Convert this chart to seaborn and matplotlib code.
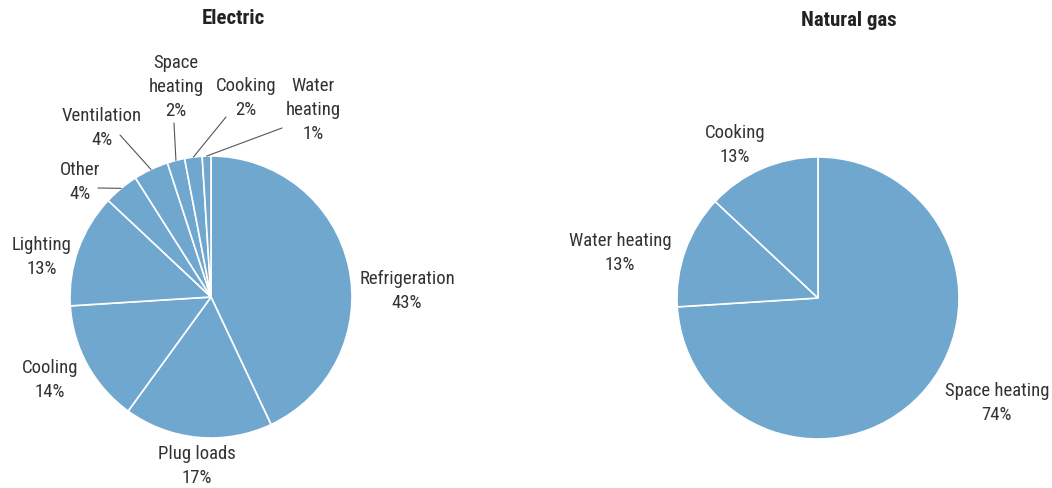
import numpy as np
import seaborn as sns
import matplotlib.pyplot as plt

# data
elec_labels = ["Refrigeration", "Plug loads", "Cooling", "Lighting", "Other",
               "Ventilation", "Space\nheating", "Cooking", "Water\nheating"]
elec_values = [43, 17, 14, 13, 4, 4, 2, 2, 1]

gas_labels = ["Space heating", "Water heating", "Cooking"]
gas_values = [74, 13, 13]

sns.set_theme(style="white")
plt.rcParams["font.family"] = ["Roboto Condensed", "Roboto", "DejaVu Sans"]

blue = sns.color_palette(["#6fa7cf"])[0]
txt = "#333333"
H = 488

fig = plt.figure(figsize=(10.52, 4.88), dpi=100)
ax = fig.add_axes([0, 0, 1, 1])

R = 141


def draw_pie(values, labels, cx, cy, label_pos, leaders):
    wedges, _ = ax.pie(values, center=(cx, H - cy), radius=R, startangle=90,
                       counterclock=False, colors=[blue] * len(values),
                       wedgeprops=dict(edgecolor="white", linewidth=1.2),
                       frame=True)
    for w, lab, v, (tx, ty) in zip(wedges, labels, values, label_pos):
        ax.text(tx, H - ty, f"{lab}\n{v}%", ha="center", va="center",
                fontsize=13.5, color=txt, linespacing=1.4)
        if lab in leaders:
            mid = np.deg2rad((w.theta1 + w.theta2) / 2)
            ax.plot([cx + R * np.cos(mid), leaders[lab][0]],
                    [H - cy + R * np.sin(mid), H - leaders[lab][1]],
                    color="#555555", lw=0.8)


elec_pos = [(407, 291), (197, 466), (50, 380), (42, 257), (80, 182),
            (102, 128), (176, 87), (246, 98), (313, 110)]
elec_leaders = {"Other": (98, 188), "Ventilation": (120, 135),
                "Space\nheating": (174, 123), "Cooking": (226, 117),
                "Water\nheating": (282, 128)}
draw_pie(elec_values, elec_labels, 211, 297, elec_pos, elec_leaders)

gas_pos = [(997, 403), (620, 253), (735, 145)]
draw_pie(gas_values, gas_labels, 818, 298, gas_pos, {})

ax.set_xlim(0, 1052)
ax.set_ylim(0, H)
ax.set_aspect("equal")
ax.axis("off")

ax.text(233, H - 18, "Electric", ha="center", va="center", fontsize=15,
        fontweight="bold", color="#222222")
ax.text(849, H - 20, "Natural gas", ha="center", va="center", fontsize=15,
        fontweight="bold", color="#222222")

fig.savefig("out.png", dpi=100, facecolor="white")
